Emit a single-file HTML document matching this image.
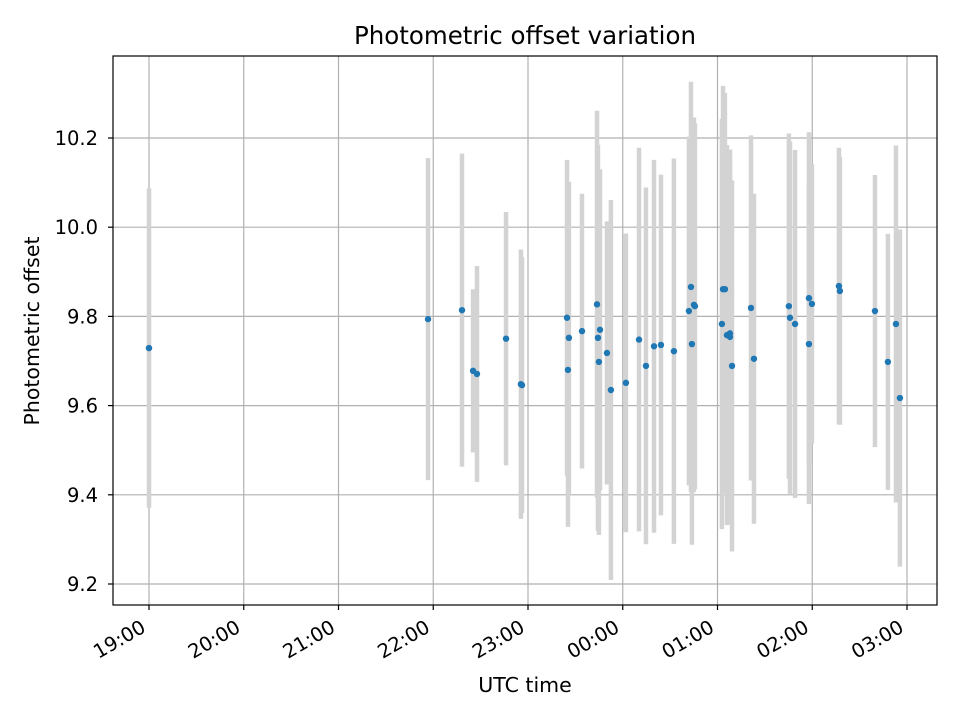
<!DOCTYPE html>
<html><head><meta charset="utf-8"><style>
body{margin:0;background:#fff}
text{font-family:"DejaVu Sans","Liberation Sans",sans-serif;fill:#000}
</style></head><body>
<svg id="chart" width="960" height="720" xmlns="http://www.w3.org/2000/svg">
<rect width="960" height="720" fill="#fff"/>
<g id="grid"></g><g id="bars"></g><g id="pts"></g><g id="axes"></g>
</svg>
<script>
// minutes since 19:00 UTC
const times=[0,176.7,198.2,205.2,207.7,226.1,235.5,236.2,264.7,265.9,265.3,274.2,283.7,284.3,284.9,285.6,290.0,292.5,302.0,310.3,314.7,319.8,324.2,332.4,341.9,343.2,343.8,345.1,345.7,362.8,363.5,364.7,366.0,367.9,367.9,369.2,381.2,383.1,405.2,405.9,409.1,417.9,417.9,419.8,436.9,437.5,459.7,467.9,473.0,475.5];
const values=[9.729,9.794,9.814,9.678,9.671,9.750,9.648,9.646,9.797,9.752,9.680,9.767,9.827,9.752,9.698,9.770,9.718,9.635,9.651,9.748,9.689,9.733,9.736,9.722,9.812,9.866,9.738,9.826,9.823,9.783,9.861,9.861,9.758,9.762,9.754,9.689,9.819,9.705,9.823,9.797,9.783,9.841,9.738,9.828,9.868,9.857,9.812,9.698,9.783,9.617];
const errors=[0.358,0.361,0.351,0.183,0.242,0.284,0.302,0.287,0.354,0.35,0.352,0.308,0.434,0.433,0.388,0.36,0.295,0.426,0.335,0.43,0.40,0.418,0.382,0.432,0.391,0.46,0.45,0.42,0.41,0.46,0.456,0.44,0.426,0.40,0.42,0.416,0.387,0.37,0.387,0.395,0.39,0.372,0.359,0.313,0.31,0.30,0.305,0.287,0.40,0.378];
const xTickLabels=["19:00","20:00","21:00","22:00","23:00","00:00","01:00","02:00","03:00"];
const yTicks=[9.2,9.4,9.6,9.8,10.0,10.2];

const L=113,R=937,T=56,B=605;
const X=m=>149+m*94.75/60;
const Y=v=>138+(10.2-v)*446;
const NS="http://www.w3.org/2000/svg";
function mk(tag,attrs,parent){const e=document.createElementNS(NS,tag);for(const k in attrs)e.setAttribute(k,attrs[k]);parent.appendChild(e);return e;}
const grid=document.getElementById('grid'),bars=document.getElementById('bars'),pts=document.getElementById('pts'),axes=document.getElementById('axes');

xTickLabels.forEach((lab,i)=>{
  const x=X(i*60);
  const g=mk('line',{x1:x,x2:x,y1:T,y2:B,stroke:'#b0b0b0','stroke-width':1.2},grid);
  
  
  mk('line',{x1:x,x2:x,y1:B,y2:B+5,stroke:'#000','stroke-width':1.2},axes);
  const ax=x-2,ay=B+26;
  const t=mk('text',{x:ax,y:ay,'font-size':19.5,'text-anchor':'end',transform:`rotate(-30 ${ax} ${ay})`},axes);
  t.textContent=lab;
  
  
});
yTicks.forEach(v=>{
  const y=Y(v);
  const g=mk('line',{x1:L,x2:R,y1:y,y2:y,stroke:'#b0b0b0','stroke-width':1.2},grid);
  
  
  mk('line',{x1:L-5,x2:L,y1:y,y2:y,stroke:'#000','stroke-width':1.2},axes);
  const t=mk('text',{x:L-15,y:y+7,'font-size':19.5,'text-anchor':'end'},axes);
  t.textContent=v.toFixed(1);
  
  
});
times.forEach((m,i)=>{
  const x=X(m);
  const b=mk('line',{x1:x,x2:x,y1:Y(values[i]+errors[i]),y2:Y(values[i]-errors[i]),stroke:'#d3d3d3','stroke-width':4.5},bars);
  
  
});
times.forEach((m,i)=>{
  const c=mk('circle',{cx:X(m),cy:Y(values[i]),r:3.2,fill:'#1f77b4'},pts);
  
  
});
const frame=mk('rect',{x:L,y:T,width:R-L,height:B-T,fill:'none',stroke:'#000','stroke-width':1.2},axes);


const title=mk('text',{x:(L+R)/2,y:44,'font-size':24.5,'text-anchor':'middle'},axes);
title.textContent='Photometric offset variation';


const xl=mk('text',{x:(L+R)/2,y:692,'font-size':20.5,'text-anchor':'middle'},axes);
xl.textContent='UTC time';


const yl=mk('text',{x:39,y:331,'font-size':20.5,'text-anchor':'middle',transform:'rotate(-90 39 331)'},axes);
yl.textContent='Photometric offset';


</script>
</body></html>
